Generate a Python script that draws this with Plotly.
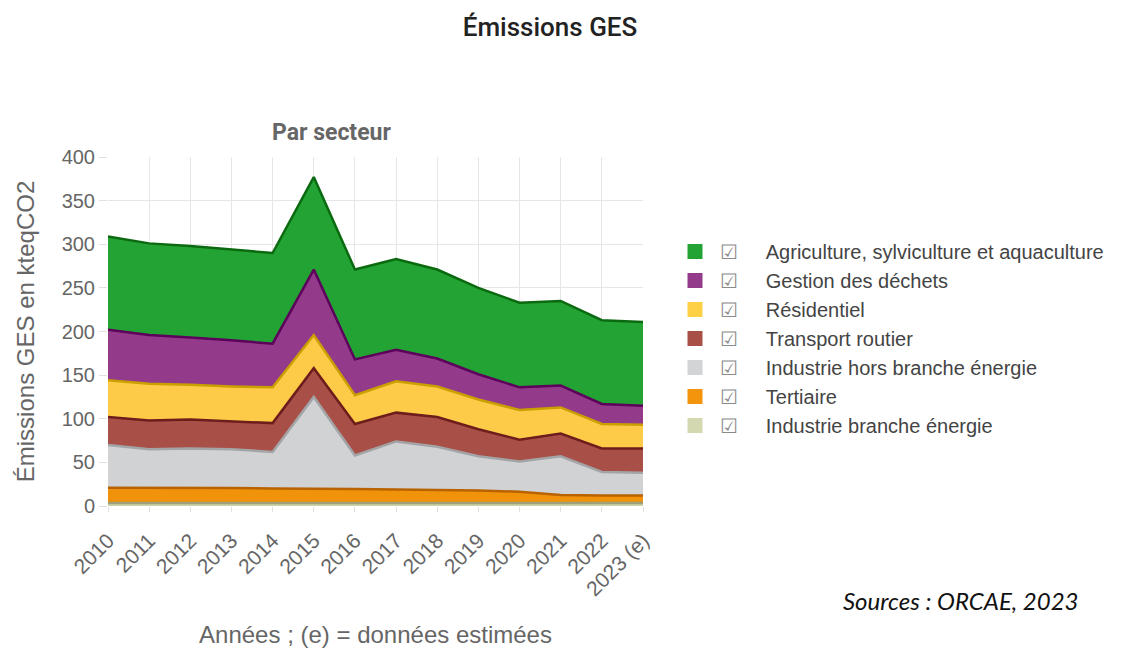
import plotly.graph_objects as go

years = ["2010", "2011", "2012", "2013", "2014", "2015", "2016",
         "2017", "2018", "2019", "2020", "2021", "2022", "2023 (e)"]

# kteqCO2 per sector (stacked bottom -> top)
ind_energie = [3.5, 3.5, 3.5, 3.5, 3.5, 3.5, 3.5, 3.5, 3.5, 3.5, 3.5, 3.5, 3.5, 3.5]
tertiaire = [17.5, 17.5, 17, 17, 16.5, 16.5, 16, 15.5, 15, 14.2, 12.9, 9.1, 8.5, 8.5]
ind_hors = [49, 44, 45.5, 44.5, 42, 105, 38.5, 55, 49.5, 39.3, 34.6, 44.4, 27, 26]
transport = [32, 33, 33, 32, 33, 33, 36, 33, 34, 31, 25, 26, 27, 28]
residentiel = [42, 42, 40, 40, 41, 38, 33, 36, 35, 34, 34, 30, 28, 27]
dechets = [58, 56, 54, 53, 50, 75, 41, 36, 32, 29, 26, 25, 23, 22]
agriculture = [107, 105, 105, 104, 104, 106, 103, 104, 102, 99, 97, 97, 96, 96]

series = [
    ("Industrie branche énergie", ind_energie, "#cdd2a6", "#9da07a", "#d3d8b0"),
    ("Tertiaire", tertiaire, "#f0930a", "#b96200", "#f2950c"),
    ("Industrie hors branche énergie", ind_hors, "#d1d2d4", "#a3a4a6", "#d3d4d6"),
    ("Transport routier", transport, "#a84f47", "#6e1d1d", "#a84f47"),
    ("Résidentiel", residentiel, "#fdcb48", "#c9a000", "#fdd045"),
    ("Gestion des déchets", dechets, "#943a8a", "#5c005c", "#943a8a"),
    ("Agriculture, sylviculture et aquaculture", agriculture, "#22a334", "#0b6a10", "#22a334"),
]

fig = go.Figure()
for name, vals, fill, line, leg in series:
    fig.add_trace(go.Scatter(
        x=years, y=vals, mode="lines", stackgroup="one", name=name,
        fillcolor=fill, line=dict(color=line, width=2.5),
        showlegend=False, legendgroup=name,
    ))
for name, vals, fill, line, leg in series:
    # legend-only entries with square swatches
    fig.add_trace(go.Scatter(
        x=[None], y=[None], mode="markers", legendgroup=name,
        name="<span style='color:#8a8a8a'>☑</span>&nbsp;&nbsp;&nbsp;&nbsp;&nbsp;" + name,
        marker=dict(symbol="square", size=15, color=leg),
    ))

grey = "#666666"
# page has an 8px body offset, so the figure is sized 8px smaller
fig.update_layout(
    width=1125, height=640,
    paper_bgcolor="white", plot_bgcolor="white",
    margin=dict(l=100, r=490, t=149, b=142),
    font=dict(family="Liberation Sans, Arial, sans-serif", color=grey, size=18),
    title=dict(
        text="Émissions GES", x=(550 - 8) / 1125, xanchor="center",
        y=1 - (27 - 8) / 640, yanchor="middle",
        font=dict(family="Roboto, sans-serif", size=26, weight=500, color="#222222"),
    ),
    legend=dict(
        x=(670 - 108) / 535, y=(506 - 232) / 349, xanchor="left", yanchor="top",
        traceorder="reversed", font=dict(size=20, color="#444444"),
        itemwidth=40, bgcolor="rgba(0,0,0,0)",
    ),
    showlegend=True,
)
fig.update_xaxes(
    showgrid=True, gridcolor="#e6e6e6", tickangle=-45, automargin=False,
    ticks="outside", ticklen=5, tickcolor="#e0e0e0",
    showline=False, range=[0, 13], zeroline=False,
    tickfont=dict(size=21, color=grey), ticklabelstandoff=8,
    title=dict(text="Années ; (e) = données estimées", font=dict(size=24, color=grey), standoff=28),
)
fig.update_yaxes(
    range=[0, 400], dtick=50, showgrid=True, gridcolor="#e6e6e6", automargin=False,
    ticks="outside", ticklen=8, tickcolor="#e0e0e0", zeroline=False,
    tickfont=dict(size=20, color=grey),
    title=dict(text="Émissions GES en kteqCO2", font=dict(size=24, color=grey), standoff=20),
)
fig.add_annotation(
    text="<b>Par secteur</b>", xref="paper", yref="paper", x=(331 - 108) / 535, y=(506 - 133) / 349,
    showarrow=False, yanchor="middle",
    font=dict(family="Roboto, sans-serif", size=23, color=grey),
)
fig.add_annotation(
    text="<i>Sources : ORCAE, 2023</i>", xref="paper", yref="paper",
    x=(960 - 108) / 535, y=(506 - 600) / 349, xanchor="center", yanchor="middle", showarrow=False,
    font=dict(family="Lato, Open Sans, sans-serif", size=24, color="#111111"),
)

fig.write_html("out.html")
